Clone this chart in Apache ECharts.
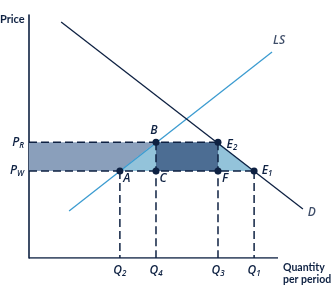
<!DOCTYPE html>
<html><head><meta charset="utf-8">
<script src="https://cdn.jsdelivr.net/npm/echarts@6/dist/echarts.min.js"></script>
<style>html,body{margin:0;padding:0;background:#fff}#c{width:335px;height:286px}</style>
</head><body><div id="c"></div>
<script>
const qNames = ['Q2', 'Q4', 'Q3', 'Q1'];
const qValues = [36.5, 51.0, 75.9, 90.4];
const pNames = ['PW', 'PR'];
const pValues = [35.8, 47.6];
const demandLine = [[12.9, 97.1], [110.0, 20.2]];
const supplyLine = [[16.1, 19.3], [97.6, 84.8]];
const xAxisEnd = 100;
const pointNames = ['A', 'B', 'C', 'E2', 'F', 'E1'];

const [Q2, Q4, Q3, Q1] = qValues;
const [PW, PR] = pValues;
const pointValues = [[Q2, PW], [Q4, PR], [Q4, PW], [Q3, PR], [Q3, PW], [Q1, PW]];
const pointOffsets = { A: [7, 8], B: [-2, -12], C: [7, 8], E2: [14, 2], F: [7, 8], E1: [13, 0] };

const NAVY = '#0e2142';
const polys = [
  { pts: [[0, PW], [Q2, PW], [Q4, PR], [0, PR]], color: '#8a9fbb' },
  { pts: [[Q2, PW], [Q4, PR], [Q4, PW]], color: '#93c3da' },
  { pts: [[Q4, PW], [Q3, PW], [Q3, PR], [Q4, PR]], color: '#4c6d93' },
  { pts: [[Q3, PW], [Q3, PR], [Q1, PW]], color: '#93c3da' }
];
const dashSegs = [
  [[0, PR], [Q3, PR]], [[0, PW], [Q1, PW]],
  [[Q2, PW], [Q2, 0]], [[Q4, PR], [Q4, 0]], [[Q3, PR], [Q3, 0]], [[Q1, PW], [Q1, 0]]
];

function sub(name) {
  if (name.length === 2) return '{i|' + name[0] + '}{s|' + name[1] + '}';
  return '{i|' + name + '}';
}
const rich = {
  i: { fontFamily: 'Open Sans', fontStyle: 'italic', fontWeight: 600, fontSize: 12, color: NAVY, lineHeight: 14 },
  s: { fontFamily: 'Open Sans', fontStyle: 'italic', fontWeight: 600, fontSize: 8, color: NAVY, verticalAlign: 'bottom', lineHeight: 10 }
};

const series = [];
series.push({
  type: 'custom', z: 1, silent: true,
  data: polys.map((p, i) => [i, 0]),
  renderItem: (params, api) => {
    const p = polys[params.dataIndex];
    return { type: 'polygon', shape: { points: p.pts.map(pt => api.coord(pt)) }, style: { fill: p.color } };
  }
});
dashSegs.forEach(seg => series.push({
  type: 'line', z: 2, data: seg, symbol: 'none', silent: true,
  lineStyle: { color: NAVY, width: 1.5, type: [8, 4] }
}));
series.push({ type: 'line', z: 3, data: [[0, 0], [xAxisEnd, 0]], symbol: 'none', silent: true, lineStyle: { color: NAVY, width: 1.6 } });
series.push({ type: 'line', z: 3, data: supplyLine, symbol: 'none', lineStyle: { color: '#3b9bd0', width: 1.3 } });
series.push({ type: 'line', z: 3, data: demandLine, symbol: 'none', lineStyle: { color: NAVY, width: 1.3 } });
series.push({
  type: 'scatter', z: 4, symbolSize: 7, itemStyle: { color: NAVY, opacity: 1 },
  data: pointValues.map((v, i) => ({
    value: v,
    label: { show: true, position: 'inside', align: 'center', verticalAlign: 'middle', offset: pointOffsets[pointNames[i]], formatter: sub(pointNames[i]), rich }
  }))
});
series.push({
  type: 'scatter', z: 4, symbolSize: 0, clip: false,
  data: [
    { value: supplyLine[1], label: { show: true, position: 'inside', offset: [7, -11], formatter: '{i|LS}', rich } },
    { value: demandLine[1], label: { show: true, position: 'inside', offset: [9, 4], formatter: '{i|D}', rich } }
  ]
});

const chart = echarts.init(document.getElementById('c'), null, { renderer: 'canvas' });
chart.setOption({
  animation: false,
  grid: { left: 29, right: 30, top: 15, bottom: 28 },
  xAxis: {
    type: 'value', min: 0, max: 110.84,
    axisLine: { show: false },
    axisTick: { show: false }, splitLine: { show: false },
    axisLabel: {
      customValues: qValues, margin: 6,
      formatter: v => sub(qNames[qValues.indexOf(v)] || ''), rich
    }
  },
  yAxis: {
    type: 'value', min: 0, max: 100,
    axisLine: { show: true, lineStyle: { color: NAVY, width: 1.6 } },
    axisTick: { show: false }, splitLine: { show: false },
    axisLabel: {
      customValues: pValues, margin: 5,
      formatter: v => sub(pNames[pValues.indexOf(v)] || ''), rich
    }
  },
  graphic: [
    { type: 'text', left: 0, top: 14, style: { text: 'Price', font: 'bold 11px Lato', fill: NAVY } },
    { type: 'text', left: 283, top: 262, style: { text: 'Quantity\nper period', font: 'bold 10.5px Lato', fill: NAVY, lineHeight: 12 } }
  ],
  series
});
</script></body></html>
